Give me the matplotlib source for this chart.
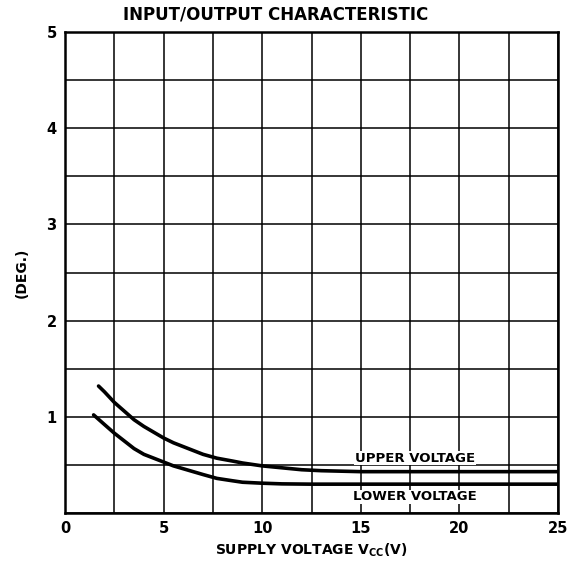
import numpy as np
import matplotlib.pyplot as plt

# curve values
upper_x = [1.7, 2.0, 2.5, 3.0, 3.5, 4.0, 4.5, 5.0, 5.5, 6.0, 6.5, 7.0, 7.7, 8.5,
           9.0, 10.0, 11.0, 12.0, 13.0, 14.0, 15.0, 20.0, 25.0]
upper_y = [1.32, 1.26, 1.15, 1.06, 0.97, 0.90, 0.84, 0.78, 0.73, 0.69, 0.65, 0.61,
           0.57, 0.54, 0.52, 0.49, 0.47, 0.45, 0.44, 0.435, 0.43, 0.43, 0.43]
lower_x = [1.45, 2.0, 2.5, 3.0, 3.5, 4.0, 4.5, 5.0, 5.5, 6.0, 6.5, 7.0, 7.7, 8.5,
           9.0, 10.0, 11.0, 12.5, 15.0, 20.0, 25.0]
lower_y = [1.02, 0.92, 0.83, 0.75, 0.67, 0.61, 0.57, 0.53, 0.49, 0.46, 0.43, 0.40,
           0.36, 0.335, 0.32, 0.31, 0.303, 0.30, 0.30, 0.30, 0.30]

x_ticks = [0, 5, 10, 15, 20, 25]
y_ticks = [1, 2, 3, 4, 5]

plt.rcParams.update({'font.family': 'DejaVu Sans', 'font.weight': 'bold'})

fig = plt.figure(figsize=(5.81, 5.68), dpi=100)
ax = fig.add_axes([0.1119, 0.0968, 0.8485, 0.8468])

ax.set_xlim(0, 25)
ax.set_ylim(0, 5)
ax.set_xticks(x_ticks)
ax.set_xticks(np.arange(2.5, 25, 5), minor=True)
ax.set_yticks([0] + y_ticks)
ax.set_yticks(np.arange(0.5, 5, 1.0), minor=True)
ax.grid(True, which='both', color='black', linewidth=1.1)
ax.set_yticklabels([''] + [str(v) for v in y_ticks])
ax.tick_params(which='both', length=0, labelsize=10.5, pad=6)
for s in ax.spines.values():
    s.set_linewidth(1.8)

ax.plot(upper_x, upper_y, color='black', linewidth=2.6, solid_capstyle='round')
ax.plot(lower_x, lower_y, color='black', linewidth=2.6, solid_capstyle='round')

ax.text(17.75, 0.57, 'UPPER VOLTAGE', ha='center', va='center', fontsize=9.5,
        bbox=dict(facecolor='white', edgecolor='none', pad=0.5))
ax.text(17.75, 0.17, 'LOWER VOLTAGE', ha='center', va='center', fontsize=9.5,
        bbox=dict(facecolor='white', edgecolor='none', pad=0.5))

fig.text(0.475, 0.975, 'INPUT/OUTPUT CHARACTERISTIC', ha='center', va='center', fontsize=12)
fig.text(0.535, 0.032, 'SUPPLY VOLTAGE V$_{\\mathregular{CC}}$(V)', ha='center', va='center', fontsize=10)
fig.text(0.038, 0.52, '(DEG.)', ha='center', va='center', rotation=90, fontsize=10)

fig.savefig('out.png', dpi=100)
